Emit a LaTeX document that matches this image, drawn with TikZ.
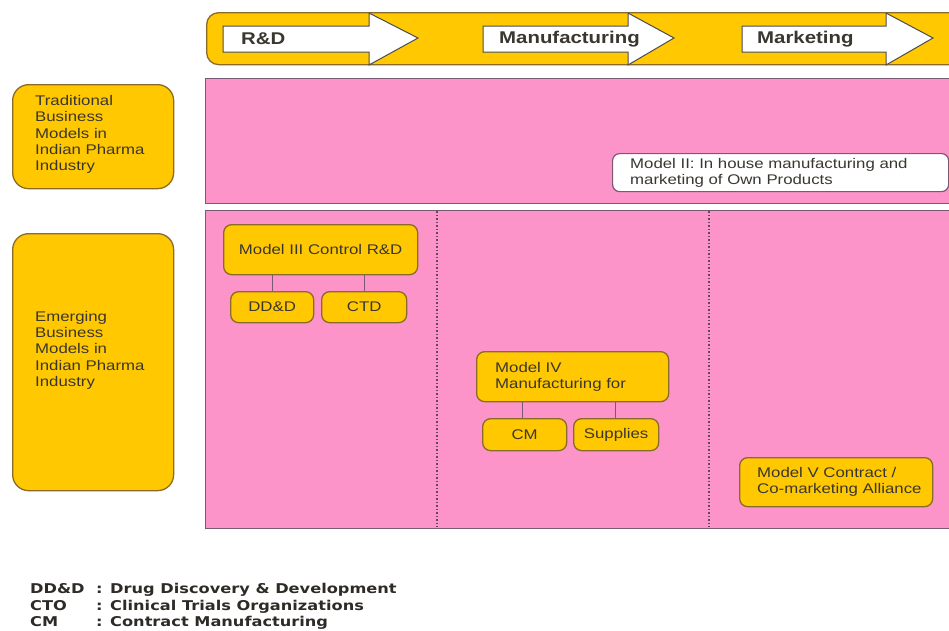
\documentclass[tikz,border=0pt]{standalone}
\usepackage{fontspec}
\setmainfont{Liberation Sans}
\newfontfamily\wide[FakeStretch=1.2]{Liberation Sans}
\newfontfamily\legfont[FakeStretch=1.2]{DejaVu Sans}
\definecolor{gold}{HTML}{FFC800}
\definecolor{goldline}{HTML}{8C6A28}
\definecolor{pinkfill}{HTML}{FC94CA}
\definecolor{pinkline}{HTML}{7A5A72}
\definecolor{txt}{HTML}{3A3630}
\tikzset{
  goldbox/.style={draw=goldline, line width=1.3pt, fill=gold, rounded corners=8pt, inner sep=0pt, anchor=north west},
  bigbox/.style={goldbox, rounded corners=16pt},
  pinkbox/.style={draw=pinkline, line width=1pt, fill=pinkfill, inner sep=0pt, anchor=north west},
  whitebox/.style={draw=pinkline, line width=1.2pt, fill=white, rounded corners=7pt, inner sep=0pt, anchor=north west},
  lbl/.style={text=txt, font=\wide\fontsize{14}{16.3}\selectfont, align=left, inner sep=0pt},
  clbl/.style={text=txt, font=\wide\fontsize{14}{16.3}\selectfont},
  arrowlbl/.style={text=txt, font=\wide\bfseries\fontsize{17}{20}\selectfont, inner sep=0pt, anchor=west},
  stagearrow/.style={draw=black!70, line width=1pt, fill=white, line join=miter},
  link/.style={draw=pinkline, line width=1.3pt},
  divider/.style={draw=pinkline!80!black, line width=1.5pt, dotted}
}
\begin{document}
\begin{tikzpicture}[x=1pt,y=-1pt]
\useasboundingbox (0,0) rectangle (949,630);
\clip (0,0) rectangle (949,630);

% top banner
\node[goldbox, rounded corners=12pt, minimum width=760pt, minimum height=52pt] (banner) at (206,12) {};
\draw[stagearrow] (223,26) -- (369,26) -- (369,13) -- (418,38) -- (369,65) -- (369,52) -- (223,52) -- cycle;
\node[arrowlbl] (rd) at (241,39) {R\&D};
\draw[stagearrow] (483,26) -- (628,26) -- (628,13) -- (674,38) -- (628,65) -- (628,52) -- (483,52) -- cycle;
\node[arrowlbl] (mf) at (499,39) {Manufacturing};
\draw[stagearrow] (742,26) -- (886,26) -- (886,13) -- (933,38) -- (886,65) -- (886,52) -- (742,52) -- cycle;
\node[arrowlbl] (mk) at (757,39) {Marketing};

% pink rows
\node[pinkbox, minimum width=760pt, minimum height=125pt] (row1) at (205,78) {};
\node[pinkbox, minimum width=760pt, minimum height=318pt] (row2) at (205,210) {};
\coordinate (d1t) at (437,211);
\coordinate (d1b) at (437,527);
\coordinate (d2t) at (709,211);
\coordinate (d2b) at (709,527);
\draw[divider] (d1t) -- (d1b);
\draw[divider] (d2t) -- (d2b);

% left labels
\node[bigbox, minimum width=161pt, minimum height=104pt] (trad) at (12,84) {};
\node[lbl, anchor=west] (tradt) at ([xshift=23pt,yshift=2pt]trad.west) {Traditional\\Business\\Models in\\Indian Pharma\\Industry};
\node[bigbox, minimum width=161pt, minimum height=257pt] (emer) at (12,233) {};
\node[lbl, anchor=west] (emert) at ([xshift=23pt,yshift=12pt]emer.west) {Emerging\\Business\\Models in\\Indian Pharma\\Industry};

% Model II
\node[whitebox, minimum width=336pt, minimum height=38pt] (m2) at (612,153) {};
\node[lbl, anchor=west] (m2t) at ([xshift=18pt]m2.west) {Model II: In house manufacturing and\\marketing of Own Products};

% Model III
\node[goldbox, minimum width=194pt, minimum height=50pt] (m3) at (223,224) {};
\node[clbl] (m3t) at (m3.center) {Model III Control R\&D};
\node[goldbox, minimum width=83pt, minimum height=31pt] (dd) at (230,291) {};
\node[clbl] (ddt) at (dd.center) {DD\&D};
\node[goldbox, minimum width=85pt, minimum height=31pt] (ctd) at (321,291) {};
\node[clbl] (ctdt) at (ctd.center) {CTD};
\draw[link] (dd.north) -- (dd.north |- m3.south);
\draw[link] (ctd.north) -- (ctd.north |- m3.south);

% Model IV
\node[goldbox, minimum width=192pt, minimum height=50pt] (m4) at (476,351) {};
\node[lbl, anchor=west] (m4t) at ([xshift=19pt]m4.west) {Model IV\\Manufacturing for};
\node[goldbox, minimum width=84pt, minimum height=32pt] (cm) at (482,418) {};
\node[clbl] (cmt) at (cm.center) {CM};
\node[goldbox, minimum width=85pt, minimum height=32pt] (sup) at (573,418) {};
\node[clbl] (supt) at (sup.center) {Supplies};
\draw[link] ([xshift=-2pt]cm.north) -- ([xshift=-2pt]cm.north |- m4.south);
\draw[link] ([xshift=-1pt]sup.north) -- ([xshift=-1pt]sup.north |- m4.south);

% Model V
\node[goldbox, minimum width=193pt, minimum height=49pt] (m5) at (739,457) {};
\node[lbl, anchor=west] (m5t) at ([xshift=18pt]m5.west) {Model V Contract /\\Co-marketing Alliance};

% legend
\node[anchor=north west, inner sep=0pt, text=txt!80!black, font=\legfont\bfseries\fontsize{13.5}{16.5}\selectfont, align=left] (legend) at (30,582)
{\begin{tabular}{@{}p{66pt}@{}l@{}}
DD\&D & : Drug Discovery \& Development\\
CTO & : Clinical Trials Organizations\\
CM & : Contract Manufacturing
\end{tabular}};
\end{tikzpicture}
\end{document}
